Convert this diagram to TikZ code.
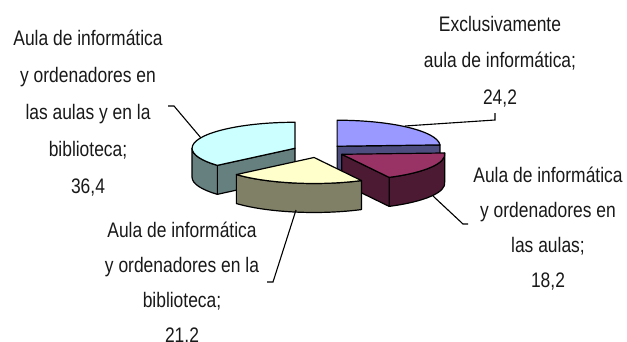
\documentclass[tikz,border=0pt]{standalone}
\usepackage{fontspec}
\setmainfont[FakeStretch=0.83]{Liberation Sans}
\usetikzlibrary{calc}
\definecolor{bluetp}{HTML}{9999FF}
\definecolor{bluesd}{HTML}{4D4D80}
\definecolor{martp}{HTML}{993366}
\definecolor{marsd}{HTML}{4D1A33}
\definecolor{yeltp}{HTML}{FFFFCC}
\definecolor{yelsd}{HTML}{808066}
\definecolor{cyntp}{HTML}{CCFFFF}
\definecolor{cynsd}{HTML}{668080}
\tikzset{
  face/.style={draw=black, line width=1.2pt, line join=round},
  leader/.style={draw=black, line width=1.1pt},
  lbl/.style={align=center, inner sep=0pt, anchor=base, text=black!90},
  lsp/.style={font=\fontsize{21}{#1}\selectfont},
}
\begin{document}
\begin{tikzpicture}[x=1pt,y=1pt]
\useasboundingbox[fill=white] (0,0) rectangle (627,341);
\def\E{103pt and 26pt}
\coordinate (C) at (319,190);
\coordinate (B) at ($(C)+(46.44:26.3pt and 6.6pt)$);
\coordinate (M) at ($(C)+(-29.88:26.3pt and 6.6pt)$);
\coordinate (Y) at ($(C)+(-100.8:26.3pt and 6.6pt)$);
\coordinate (K) at ($(C)+(155.52:26.3pt and 6.6pt)$);
% blue slice
\path[face, fill=bluesd] (B) -- ($(B)+(2.88:\E)$) -- ++(0,-29pt) -- ($(B)+(0,-29pt)$) -- cycle;
\path[face, fill=bluetp] (B) -- ($(B)+(90:\E)$) arc[start angle=90, end angle=2.88, x radius=103pt, y radius=26pt] -- cycle;
% cyan slice
\path[face, fill=cynsd] (K) -- ($(K)+(-138.96:\E)$) -- ++(0,-29pt) -- ($(K)+(0,-29pt)$) -- cycle;
\path[face, fill=cynsd] ($(K)+(-138.96:\E)$) arc[start angle=-138.96, end angle=-180, x radius=103pt, y radius=26pt] -- ++(0,-29pt) arc[start angle=-180, end angle=-138.96, x radius=103pt, y radius=26pt] -- cycle;
\path[face, fill=cyntp] (K) -- ($(K)+(90:\E)$) arc[start angle=90, end angle=221.04, x radius=103pt, y radius=26pt] -- cycle;
% maroon slice
\path[face, fill=marsd] ($(M)+(2.88:\E)$) arc[start angle=2.88, end angle=-62.64, x radius=103pt, y radius=26pt] -- ++(0,-29pt) arc[start angle=-62.64, end angle=2.88, x radius=103pt, y radius=26pt] -- cycle;
\path[face, fill=marsd] (M) -- ($(M)+(-62.64:\E)$) -- ++(0,-29pt) -- ($(M)+(0,-29pt)$) -- cycle;
\path[face, fill=martp] (M) -- ($(M)+(2.88:\E)$) arc[start angle=2.88, end angle=-62.64, x radius=103pt, y radius=26pt] -- cycle;
% yellow slice
\path[face, fill=yelsd] ($(Y)+(-62.64:\E)$) arc[start angle=-62.64, end angle=-138.96, x radius=103pt, y radius=26pt] -- ++(0,-29pt) arc[start angle=-138.96, end angle=-62.64, x radius=103pt, y radius=26pt] -- cycle;
\path[face, fill=yeltp] (Y) -- ($(Y)+(-62.64:\E)$) arc[start angle=-62.64, end angle=-138.96, x radius=103pt, y radius=26pt] -- cycle;
% labels (anchor=base is the baseline of the last line)
\node[lbl, lsp=37] (lcyan) at (88,147.3) {Aula de informática\\y ordenadores en\\las aulas y en la\\biblioteca;\\36,4};
\node[lbl, lsp=36.5] (lblue) at (500,237) {Exclusivamente\\aula de informática;\\24,2};
\node[lbl, lsp=35] (lyel) at (182,-1) {Aula de informática\\y ordenadores en la\\biblioteca;\\21,2};
\node[lbl, lsp=35] (lmar) at (548,54) {Aula de informática\\y ordenadores en\\las aulas;\\18,2};
% leaders
\coordinate (b1) at (405,215); \coordinate (b2) at (495,221); \coordinate (b3) at (495,228);
\coordinate (m1) at (433,145); \coordinate (m2) at (463,117); \coordinate (m3) at (468,117);
\coordinate (y1) at (296,131); \coordinate (y2) at (273,59); \coordinate (y3) at (267,59);
\coordinate (c1) at (201,203); \coordinate (c2) at (174,235); \coordinate (c3) at (168,235);
\draw[leader] (b1) -- (b2) -- (b3);
\draw[leader] (m1) -- (m2) -- (m3);
\draw[leader] (y1) -- (y2) -- (y3);
\draw[leader] (c1) -- (c2) -- (c3);
\end{tikzpicture}
\end{document}
